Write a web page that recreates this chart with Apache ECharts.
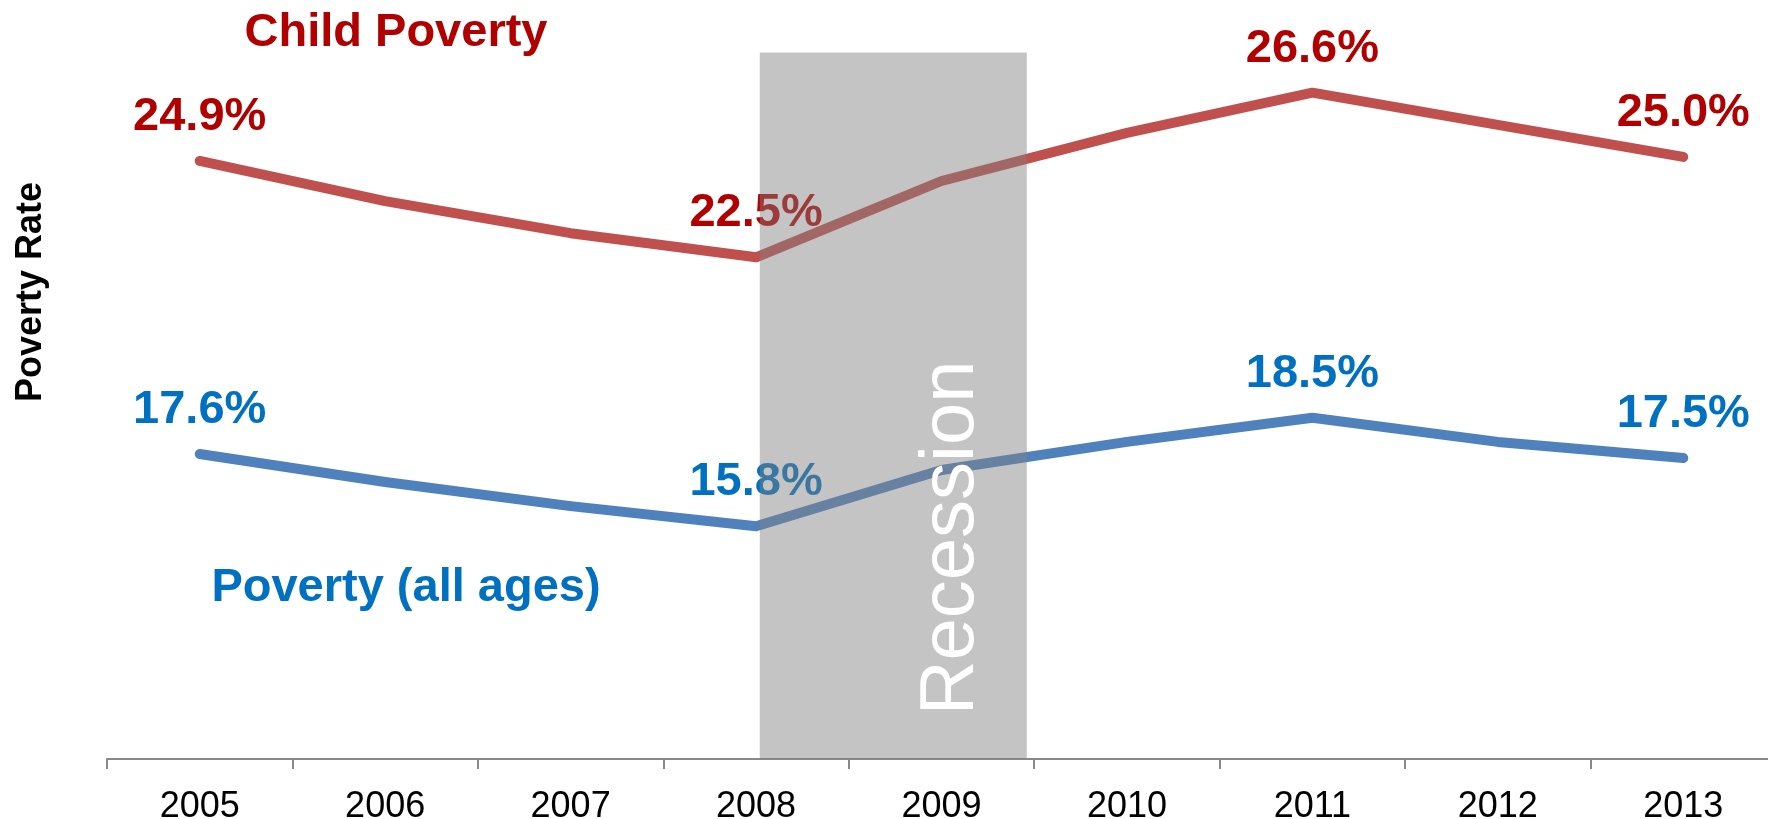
<!DOCTYPE html>
<html>
<head>
<meta charset="utf-8">
<title>Poverty Rate</title>
<script src="https://cdn.jsdelivr.net/npm/echarts@6/dist/echarts.min.js"></script>
<style>
  html, body { margin: 0; padding: 0; background: #ffffff; }
  #chart { width: 1768px; height: 819px; }
</style>
</head>
<body>
<div id="chart"></div>
<script>
// Years on the category axis
const years = ['2005', '2006', '2007', '2008', '2009', '2010', '2011', '2012', '2013'];

// Poverty rates, percent
const childPoverty = [24.9, 23.9, 23.1, 22.5, 24.4, 25.6, 26.6, 25.8, 25.0];
const allAgesPoverty = [17.6, 16.9, 16.3, 15.8, 17.2, 17.9, 18.5, 17.9, 17.5];

// Years whose value is printed above the line
const labeledYears = ['2005', '2008', '2011', '2013'];

// Recession shading, in fractional years, and its height on the rate axis
const recessionSpan = [2008.02, 2009.46];
const recessionTop = 27.6;

const yMin = 10;
const yMax = 28;

const RED_LINE = '#C0504D';
const BLUE_LINE = '#4F81BD';
const RED_TEXT = '#B00000';
const BLUE_TEXT = '#0070C0';
const FONT = '"Liberation Sans", Arial, Helvetica, sans-serif';

function withLabels(values, color) {
  return values.map((v, i) => ({
    value: v,
    label: {
      show: labeledYears.indexOf(years[i]) !== -1,
      position: 'top',
      distance: 20,
      color: color,
      fontFamily: FONT,
      fontWeight: 'bold',
      fontSize: 47,
      formatter: p => p.value.toFixed(1) + '%'
    }
  }));
}

const chart = echarts.init(document.getElementById('chart'), null, { renderer: 'canvas' });

chart.setOption({
  animation: false,
  backgroundColor: '#ffffff',
  grid: {
    left: 107, right: -8, top: 36.5, bottom: 60,
    containLabel: false,
    outerBoundsMode: 'none'
  },
  xAxis: [
    {
      type: 'category',
      data: years,
      boundaryGap: true,
      axisLine: { show: true, lineStyle: { color: '#898989', width: 2 } },
      axisTick: { show: true, length: 10, lineStyle: { color: '#898989', width: 2 } },
      axisLabel: { color: '#000000', fontFamily: FONT, fontSize: 36, margin: 30 },
      splitLine: { show: false }
    },
    {
      // fractional-year scale aligned to the category bands, used for the shading
      type: 'value',
      min: Number(years[0]) - 0.5,
      max: Number(years[years.length - 1]) + 0.5,
      show: false
    }
  ],
  yAxis: {
    type: 'value',
    min: yMin,
    max: yMax,
    show: false,
    splitLine: { show: false }
  },
  graphic: [
    {
      type: 'text',
      x: 396, y: 33,
      style: {
        text: 'Child Poverty', fill: RED_TEXT,
        font: 'bold 47px ' + FONT, textAlign: 'center', textVerticalAlign: 'middle'
      }
    },
    {
      type: 'text',
      x: 406, y: 588,
      style: {
        text: 'Poverty (all ages)', fill: BLUE_TEXT,
        font: 'bold 47px ' + FONT, textAlign: 'center', textVerticalAlign: 'middle'
      }
    },
    {
      type: 'text',
      x: 31, y: 292, rotation: Math.PI / 2,
      style: {
        text: 'Poverty Rate', fill: '#000000',
        font: 'bold 36px ' + FONT, textAlign: 'center', textVerticalAlign: 'middle'
      }
    }
  ],
  series: [
    {
      name: 'Child Poverty',
      type: 'line',
      data: withLabels(childPoverty, RED_TEXT),
      showSymbol: true,
      symbol: 'circle',
      symbolSize: 1,
      itemStyle: { color: RED_LINE },
      z: 2,
      lineStyle: { color: RED_LINE, width: 10, cap: 'round', join: 'round' },
      emphasis: { disabled: true }
    },
    {
      name: 'Poverty (all ages)',
      type: 'line',
      data: withLabels(allAgesPoverty, BLUE_TEXT),
      showSymbol: true,
      symbol: 'circle',
      symbolSize: 1,
      itemStyle: { color: BLUE_LINE },
      z: 2,
      lineStyle: { color: BLUE_LINE, width: 10, cap: 'round', join: 'round' },
      emphasis: { disabled: true }
    },
    {
      name: 'Recession',
      type: 'line',
      xAxisIndex: 1,
      yAxisIndex: 0,
      data: [],
      silent: true,
      markArea: {
        silent: true,
        z: 10,
        itemStyle: { color: 'rgba(128,128,128,0.465)' },
        label: {
          show: true,
          formatter: 'Recession',
          position: ['72%', '68.7%'],
          align: 'center',
          verticalAlign: 'middle',
          rotate: 90,
          color: '#ffffff',
          fontFamily: FONT,
          fontSize: 76
        },
        emphasis: { disabled: true },
        data: [[
          { xAxis: recessionSpan[0], yAxis: yMin },
          { xAxis: recessionSpan[1], yAxis: recessionTop }
        ]]
      }
    }
  ]
});
</script>
</body>
</html>
